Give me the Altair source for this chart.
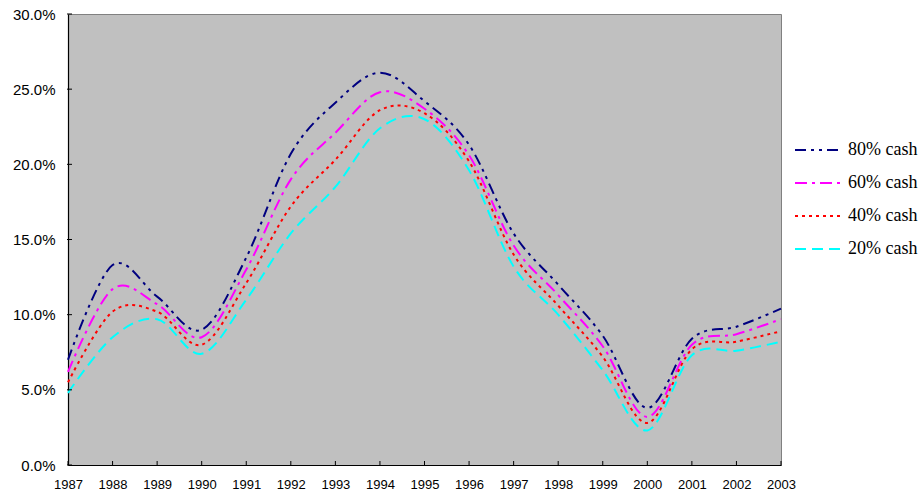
import altair as alt
import pandas as pd

years = list(range(1987, 2004))
series_names = ["80% cash", "60% cash", "40% cash", "20% cash"]
cash80 = [7.0, 13.3, 11.2, 9.0, 13.8, 20.7, 24.1, 26.1, 24.2, 21.3, 15.4, 12.0, 8.6, 3.8, 8.4, 9.2, 10.4]
cash60 = [6.2, 11.7, 10.7, 8.5, 13.0, 19.0, 22.1, 24.8, 23.7, 20.6, 14.6, 11.3, 7.9, 3.2, 8.0, 8.7, 9.7]
cash40 = [5.5, 10.2, 10.2, 8.0, 12.1, 17.2, 20.3, 23.6, 23.4, 20.2, 14.0, 10.6, 7.2, 2.8, 7.7, 8.2, 8.9]
cash20 = [4.8, 8.5, 9.7, 7.4, 11.0, 15.4, 18.5, 22.4, 23.0, 19.6, 13.2, 10.0, 6.3, 2.3, 7.3, 7.6, 8.2]
y_ticks = [0, 5, 10, 15, 20, 25, 30]
colors = ["#000080", "#FF00FF", "#FF0000", "#00FFFF"]
dashes = [[11, 5, 3, 5, 3, 5], [12, 5, 3, 5], [3, 4], [11, 6]]

rows = []
for name, vals in zip(series_names, [cash80, cash60, cash40, cash20]):
    for yr, v in zip(years, vals):
        rows.append({"year": yr, "value": v, "series": name})
df = pd.DataFrame(rows)

W, H = 713, 451

x_scale = alt.Scale(domain=[1987, 2003], nice=False, zero=False)
y_scale = alt.Scale(domain=[0, 30], nice=False)

lines = alt.Chart(df).mark_line(interpolate="cardinal", strokeWidth=2).encode(
    x=alt.X("year:Q", scale=x_scale, title=None,
            axis=alt.Axis(values=years, format="d", ticks=False, grid=False,
                          labelFont="Liberation Sans", labelFontSize=13, labelColor="#000000",
                          labelPadding=13, domainColor="#000000", domainWidth=1.2,
                          labelFlush=False, labelOverlap=False)),
    y=alt.Y("value:Q", scale=y_scale, title=None,
            axis=alt.Axis(values=y_ticks, labelExpr="format(datum.value, '.1f') + '%'",
                          ticks=False, grid=False,
                          labelFont="Liberation Sans", labelFontSize=15, labelColor="#000000",
                          labelPadding=13, domainColor="#000000", domainWidth=1.2)),
    color=alt.Color("series:N", scale=alt.Scale(domain=series_names, range=colors),
                    legend=alt.Legend(title=None, orient="none", legendX=726, legendY=112,
                                      symbolType="stroke", symbolSize=2116, symbolStrokeWidth=2,
                                      labelFont="Liberation Serif", labelFontSize=18,
                                      labelColor="#000000", labelOffset=6, rowPadding=-14)),
    strokeDash=alt.StrokeDash("series:N", scale=alt.Scale(domain=series_names, range=dashes),
                              legend=None),
    order=alt.Order("series:N"),
)

xt = pd.DataFrame({"year": years})
yt = pd.DataFrame({"v": y_ticks})

x_ticks = alt.Chart(xt).mark_rule(color="#000000", strokeWidth=1).encode(
    x=alt.X("year:Q", scale=x_scale),
    y=alt.value(H - 4), y2=alt.value(H),
)
y_tick_marks = alt.Chart(yt).mark_rule(color="#000000", strokeWidth=1).encode(
    y=alt.Y("v:Q", scale=y_scale),
    x=alt.value(-1), x2=alt.value(4),
)

chart = alt.layer(lines, x_ticks, y_tick_marks).resolve_legend(
    color="shared", strokeDash="shared"
).properties(
    width=W, height=H,
    autosize=alt.AutoSizeParams(type="none"),
    padding={"left": 68, "top": 14, "right": 141, "bottom": 30},
    background="#FFFFFF",
).configure_view(
    fill="#C0C0C0", stroke="#808080", strokeWidth=1
)

chart.save("out.html", embed_options={"renderer": "svg", "actions": False})
